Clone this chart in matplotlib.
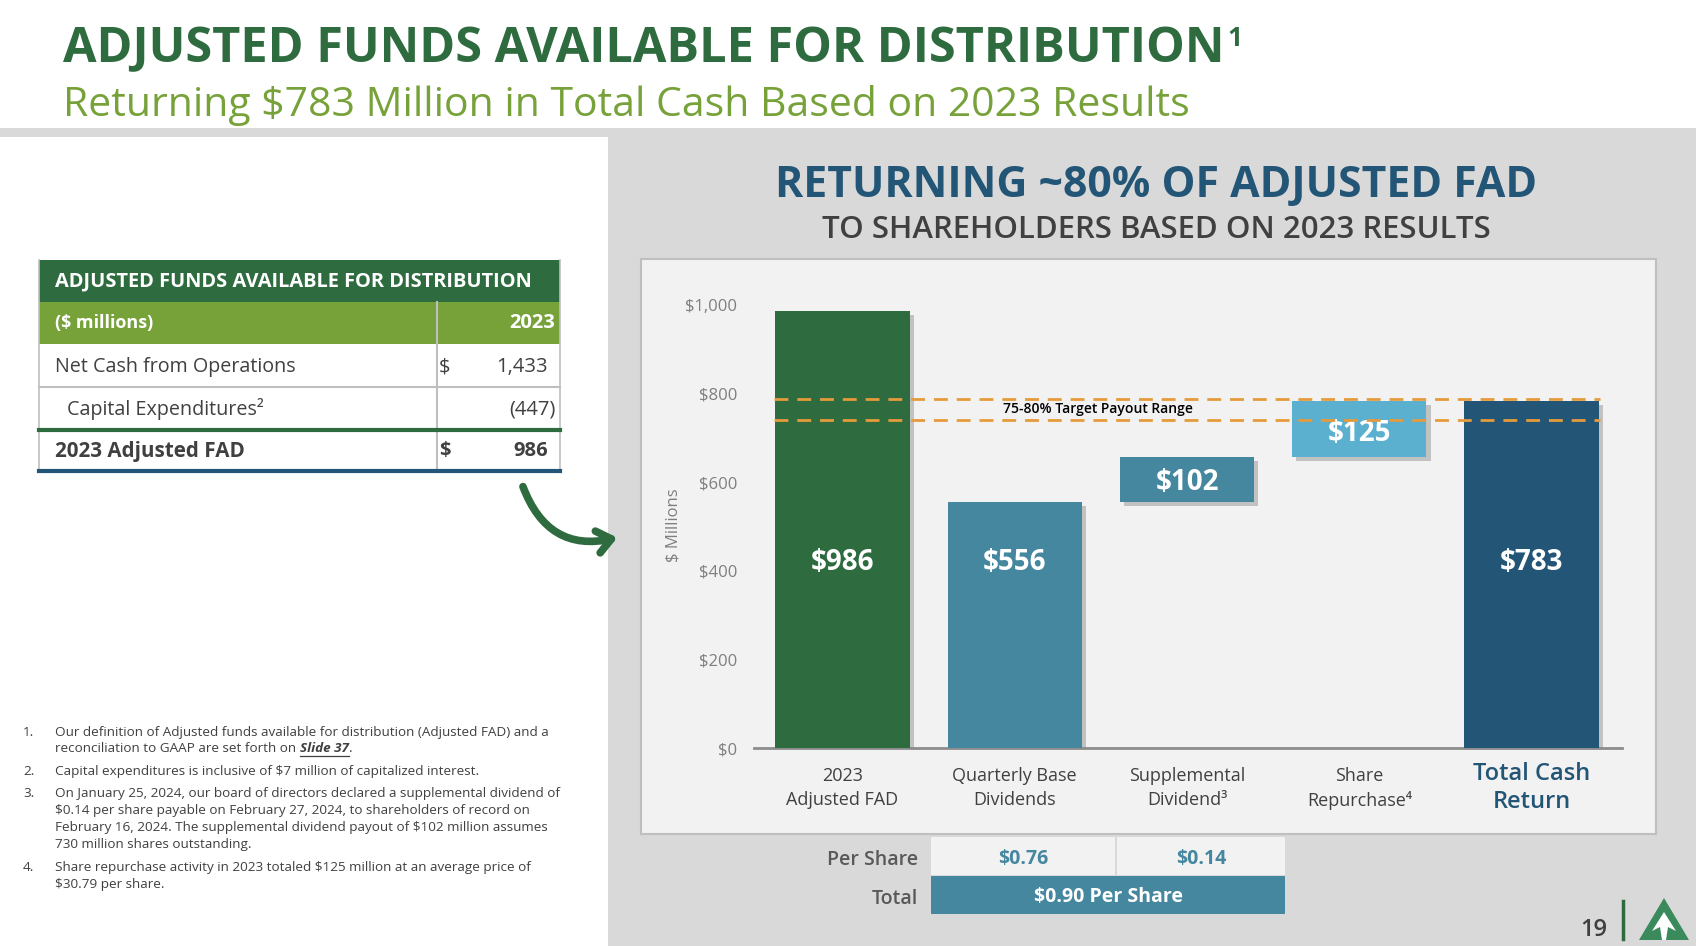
import matplotlib
matplotlib.use('Agg')
import matplotlib.pyplot as plt
import matplotlib.patheffects as pe
from matplotlib.patches import Rectangle, FancyArrowPatch, Polygon

plt.rcParams['font.family'] = ['Open Sans', 'DejaVu Sans']

# ---- data ----
categories = ['2023\nAdjusted FAD', 'Quarterly Base\nDividends', 'Supplemental\nDividend³',
              'Share\nRepurchase⁴', 'Total Cash\nReturn']
values = [986, 556, 102, 125, 783]
bar_labels = ['$986', '$556', '$102', '$125', '$783']
adjusted_fad = 986
payout_range = [0.75, 0.80]
yticks = [0, 200, 400, 600, 800, 1000]
ytick_labels = ['$0', '$200', '$400', '$600', '$800', '$1,000']

table_title = 'ADJUSTED FUNDS AVAILABLE FOR DISTRIBUTION'
table_head = ['($ millions)', '2023']
table_rows = ['Net Cash from Operations', 'Capital Expenditures²', '2023 Adjusted FAD']
table_dollar = ['$', '', '$']
table_vals = ['1,433', '(447)', '986']

per_share = ['$0.76', '$0.14']
per_share_total = '$0.90 Per Share'

footnotes = [
    ['Our definition of Adjusted funds available for distribution (Adjusted FAD) and a',
     'reconciliation to GAAP are set forth on '],
    ['Capital expenditures is inclusive of $7 million of capitalized interest.'],
    ['On January 25, 2024, our board of directors declared a supplemental dividend of',
     '$0.14 per share payable on February 27, 2024, to shareholders of record on',
     'February 16, 2024. The supplemental dividend payout of $102 million assumes',
     '730 million shares outstanding.'],
    ['Share repurchase activity in 2023 totaled $125 million at an average price of',
     '$30.79 per share.'],
]

# ---- colours ----
dgreen = '#2E6B3F'
lgreen = '#77A23A'
teal = '#44879F'
lblue = '#5BB0D0'
dblue = '#235576'
txt = '#404040'
orange = '#E59B3B'

W, H = 1696, 946
fig = plt.figure(figsize=(W / 100, H / 100), dpi=100)
bg = fig.add_axes([0, 0, 1, 1])
bg.set_xlim(0, W)
bg.set_ylim(H, 0)
bg.axis('off')
r = fig.canvas.get_renderer()


def right_end(t):
    bb = t.get_window_extent(r)
    return bg.transData.inverted().transform((bb.x1, 0))[0]


# slide background
bg.add_patch(Rectangle((0, 128), W, H - 128, color='#D9D9D9', lw=0))
bg.add_patch(Rectangle((0, 137), 608, H - 137, color='white', lw=0))
bg.add_patch(Rectangle((641, 259), 1015, 575, facecolor='#F2F2F2', edgecolor='#BFBFBF', lw=1.5))

# headers
t = bg.text(63, 62, 'ADJUSTED FUNDS AVAILABLE FOR DISTRIBUTION', color=dgreen, fontsize=35,
            fontweight='bold', va='baseline')
bg.text(right_end(t) + 3, 25, '1', color=dgreen, fontsize=19, fontweight='bold', va='top')
bg.text(63, 116, 'Returning $783 Million in Total Cash Based on 2023 Results', color=lgreen,
        fontsize=29.5, va='baseline')
bg.text(1156, 185, 'RETURNING ~80% OF ADJUSTED FAD', color=dblue, fontsize=30.8,
        fontweight='bold', ha='center', va='center')
bg.text(1156, 230, 'TO SHAREHOLDERS BASED ON 2023 RESULTS', color=txt, fontsize=22.4,
        fontweight='semibold', ha='center', va='center')

# left table
tx0, tx1, tdiv = 39, 560, 437
bg.add_patch(Rectangle((tx0, 260), tx1 - tx0, 42, color=dgreen, lw=0))
bg.add_patch(Rectangle((tx0, 302), tx1 - tx0, 42, color=lgreen, lw=0))
bg.text(55, 281, table_title, color='white', fontsize=14.4, fontweight='bold', va='center')
bg.text(55, 323, table_head[0], color='white', fontsize=13, fontweight='bold', va='center')
bg.text(555, 323, table_head[1], color='white', fontsize=14.5, fontweight='bold', va='center', ha='right')
bg.plot([tdiv, tdiv], [302, 471], color='#BFBFBF', lw=1.5)
bg.plot([tx0, tx0], [260, 471], color='#BFBFBF', lw=1.2)
bg.plot([tx1, tx1], [260, 471], color='#BFBFBF', lw=1.2)
row_y = [367, 409, 451]
for i, (lab, dol, val) in enumerate(zip(table_rows, table_dollar, table_vals)):
    bold = 'bold' if i == 2 else 'normal'
    fs = 14.9 if i == 2 else 14.2
    indent = 67 if i == 1 else 55
    bg.text(indent, row_y[i], lab, color=txt, fontsize=fs, fontweight=bold, va='center')
    if dol:
        bg.text(439, row_y[i], dol, color=txt, fontsize=14.5, fontweight=bold, va='center')
    xr = 556 if val.startswith('(') else 548
    bg.text(xr, row_y[i], val, color=txt, fontsize=14.5, fontweight=bold, va='center', ha='right')
bg.plot([tx0, tx1], [387, 387], color='#BFBFBF', lw=1.5)
bg.plot([tx0, tx1], [430, 430], color=dgreen, lw=3)
bg.plot([tx0, tx1], [471, 471], color=dblue, lw=3)

# arrow
bg.add_patch(FancyArrowPatch((522, 484), (620, 537), connectionstyle='arc3,rad=0.45',
                             arrowstyle='->,head_length=10,head_width=8', color=dgreen,
                             lw=5.5, capstyle='round', joinstyle='round'))

# footnotes
fn_y = [[732, 748], [771], [793, 810, 827, 844], [867, 884]]
fn_last = None
for k, (lines, ys) in enumerate(zip(footnotes, fn_y)):
    bg.text(23, ys[0], f'{k + 1}.', color=txt, fontsize=9.7, va='center')
    for j, (line, y) in enumerate(zip(lines, ys)):
        tt = bg.text(55, y, line, color=txt, fontsize=9.7, va='center')
        if k == 0 and j == 1:
            fn_last = tt
x_end = right_end(fn_last)
s37 = bg.text(x_end, 748, 'Slide 37', color=txt, fontsize=9.7, fontweight='bold',
              fontstyle='italic', va='center')
x_end2 = right_end(s37)
bg.plot([x_end, x_end2], [755.5, 755.5], color=txt, lw=0.9)
bg.text(x_end2, 748, '.', color=txt, fontsize=9.7, va='center')

# per share table
bg.add_patch(Rectangle((931, 837), 184, 38, color='#F2F2F2', lw=0))
bg.add_patch(Rectangle((1117, 837), 168, 38, color='#F2F2F2', lw=0))
bg.add_patch(Rectangle((931, 876), 354, 38, color=teal, lw=0))
bg.text(918, 860, 'Per Share', color='#595959', fontsize=14, fontweight='semibold', ha='right', va='center')
bg.text(918, 899, 'Total', color='#595959', fontsize=14, fontweight='semibold', ha='right', va='center')
for xc, v in zip([1023, 1201], per_share):
    bg.text(xc, 859, v, color=teal, fontsize=14, fontweight='bold', ha='center', va='center')
bg.text(1108, 897, per_share_total, color='white', fontsize=14, fontweight='bold', ha='center', va='center')

# page number + logo
bg.text(1594, 930, '19', color=txt, fontsize=17, fontweight='semibold', ha='center', va='center')
bg.plot([1623, 1623], [901, 939], color=dgreen, lw=2.5)
bg.add_patch(Polygon([(1664, 898), (1639, 940), (1689, 940)], color='#3A8A5C', lw=0))
bg.add_patch(Polygon([(1664, 912), (1676, 931), (1668, 927), (1666, 940), (1662, 940),
                      (1660, 927), (1652, 931)], color='white', lw=0))

# ---- chart ----
px = 0.443  # pixels per $1M
ytop = 1060
ax = fig.add_axes([754 / W, (H - 748) / H, (1622 - 754) / W, ytop * px / H])
ax.set_facecolor('none')
ax.set_xlim(-0.514, 4.525)
ax.set_ylim(0, ytop)

bottoms = [0, 0, values[1], values[1] + values[2], 0]
colors = [dgreen, teal, teal, lblue, dblue]
x = list(range(len(values)))
bars = ax.bar(x, values, bottom=bottoms, width=0.78, color=colors, zorder=3)
for b in bars:
    b.set_path_effects([pe.SimplePatchShadow(offset=(3, -3), shadow_rgbFace='#888888', alpha=0.45),
                        pe.Normal()])

for i, (b, lab) in enumerate(zip(bottoms, bar_labels)):
    yl = 418 if b == 0 else b + values[i] * 0.42
    ax.text(i, yl, lab, color='white', fontsize=20, fontweight='bold', ha='center', va='center', zorder=4)

for p in payout_range:
    ax.hlines(adjusted_fad * p, -0.4, 4.4, colors=orange, linestyles=(0, (5, 3.2)), lw=2, zorder=5)
ax.text(1.483, 765, '75-80% Target Payout Range', fontsize=10, fontweight='semibold',
        color='black', ha='center', va='center', zorder=6)

ax.set_yticks(yticks)
ax.set_yticklabels(ytick_labels, color='#7F7F7F', fontsize=12)
ax.set_xticks(x)
ax.set_xticklabels([])
lab_y = -40 / (ytop * px)
for i, c in enumerate(categories):
    if i == len(categories) - 1:
        ax.text(i, lab_y, c, transform=ax.get_xaxis_transform(), color=dblue, fontsize=17,
                fontweight='semibold', ha='center', va='center', ma='center', linespacing=1.25)
    else:
        ax.text(i, lab_y, c, transform=ax.get_xaxis_transform(), color=txt, fontsize=13,
                ha='center', va='center', ma='center', linespacing=1.4)
ax.tick_params(axis='y', length=0, pad=12)
ax.tick_params(axis='x', length=0)
for s in ['top', 'right', 'left']:
    ax.spines[s].set_visible(False)
ax.spines['bottom'].set_color('#8C8C8C')
ax.spines['bottom'].set_linewidth(2)
ax.set_ylabel('$ Millions', color='#7F7F7F', fontsize=12)
ax.yaxis.set_label_coords(-0.084, 0.475)

fig.savefig('out.png', dpi=100)
